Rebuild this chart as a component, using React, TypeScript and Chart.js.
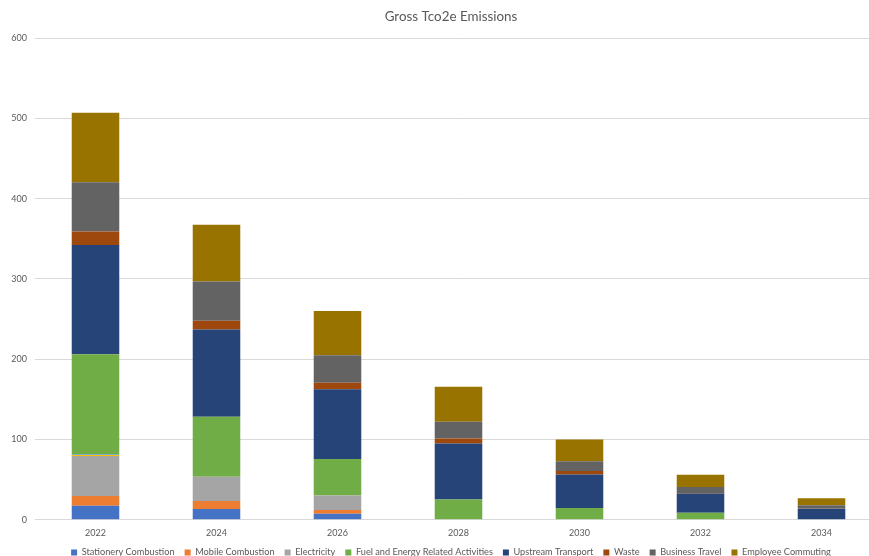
import React, { useEffect, useRef } from "react";
import { Chart, registerables } from "chart.js";

Chart.register(...registerables);

const years = ["2022", "2024", "2026", "2028", "2030", "2032", "2034"];
const stationery = [17.5, 13.3, 7.5, 0, 0, 0, 0];
const mobile = [12, 10, 4.6, 0, 0, 0, 0];
const electricity = [50, 30.4, 18.3, 0, 0, 0, 0];
const unlistedA = [1.3, 0, 0, 0, 0, 0, 0];
const unlistedB = [0.8, 0, 0, 0, 0, 0, 0];
const fuel = [124.5, 74.6, 45.4, 25.4, 14.6, 8.75, 0];
const upstream = [136.3, 108.7, 86.7, 69.6, 41.7, 24.1, 13.75];
const waste = [16.7, 11, 8.3, 6.25, 4.6, 0.5, 0.3];
const travel = [61.2, 48.7, 34.2, 20.75, 12.1, 7.5, 4.1];
const commuting = [86.6, 70.8, 55, 43.8, 27.1, 15.4, 8.8];
const yTicks = [0, 100, 200, 300, 400, 500, 600];

const FONT = "Lato, 'Open Sans', sans-serif";
const TEXT = "#595959";

export default function App() {
  const ref = useRef<HTMLCanvasElement | null>(null);
  useEffect(() => {
    document.body.style.margin = "0";
    if (!ref.current) return;
    const mk = (label: string, data: number[], color: string) => ({
      label,
      data,
      backgroundColor: color,
      borderWidth: 0,
      categoryPercentage: 1,
      barPercentage: 0.393,
    });
    const chart = new Chart(ref.current, {
      type: "bar",
      data: {
        labels: years,
        datasets: [
          mk("Stationery Combustion", stationery, "#4472C4"),
          mk("Mobile Combustion", mobile, "#ED7D31"),
          mk("Electricity", electricity, "#A5A5A5"),
          mk("", unlistedA, "#FFC000"),
          mk("", unlistedB, "#5B9BD5"),
          mk("Fuel and Energy Related Activities", fuel, "#70AD47"),
          mk("Upstream Transport", upstream, "#264478"),
          mk("Waste", waste, "#9E480E"),
          mk("Business Travel", travel, "#636363"),
          mk("Employee Commuting", commuting, "#997300"),
        ],
      },
      options: {
        animation: false,
        responsive: false,
        maintainAspectRatio: false,
        layout: { padding: { left: 0, right: 0, top: 9, bottom: 0 } },
        plugins: {
          tooltip: { enabled: false },
          title: {
            display: true,
            text: "Gross Tco2e Emissions",
            color: TEXT,
            font: { family: FONT, size: 13.4, weight: "normal" },
            padding: { top: 0, bottom: 13 },
          },
          legend: {
            position: "bottom",
            labels: {
              filter: (item: any) => item.text !== "",
              boxWidth: 6,
              boxHeight: 6,
              padding: 10,
              color: TEXT,
              font: { family: FONT, size: 9.2 },
            },
          },
        },
        scales: {
          x: {
            stacked: true,
            grid: { display: false, drawTicks: false },
            border: { color: "#d9d9d9" },
            ticks: { color: TEXT, font: { family: FONT, size: 9 }, padding: 8 },
            afterFit: (axis: any) => {
              axis.height = 18;
            },
          },
          y: {
            stacked: true,
            min: 0,
            max: 600,
            afterBuildTicks: (axis: any) => {
              axis.ticks = yTicks.map((v) => ({ value: v }));
            },
            afterFit: (axis: any) => {
              axis.width = 35;
            },
            grid: { color: "#d9d9d9", drawTicks: false },
            border: { display: false },
            ticks: { color: TEXT, font: { family: FONT, size: 9 }, padding: 8 },
          },
          yRight: {
            position: "right",
            min: 0,
            max: 600,
            grid: { display: false, drawTicks: false },
            border: { display: false },
            ticks: { display: false },
            afterFit: (axis: any) => {
              axis.width = 20;
            },
          },
        },
      },
    });
    return () => chart.destroy();
  }, []);
  return (
    <div style={{ width: 869, height: 556, overflow: "hidden", position: "relative", background: "#fff" }}>
      <canvas ref={ref} width={902} height={567} style={{ width: 902, height: 567, display: "block" }} />
    </div>
  );
}
